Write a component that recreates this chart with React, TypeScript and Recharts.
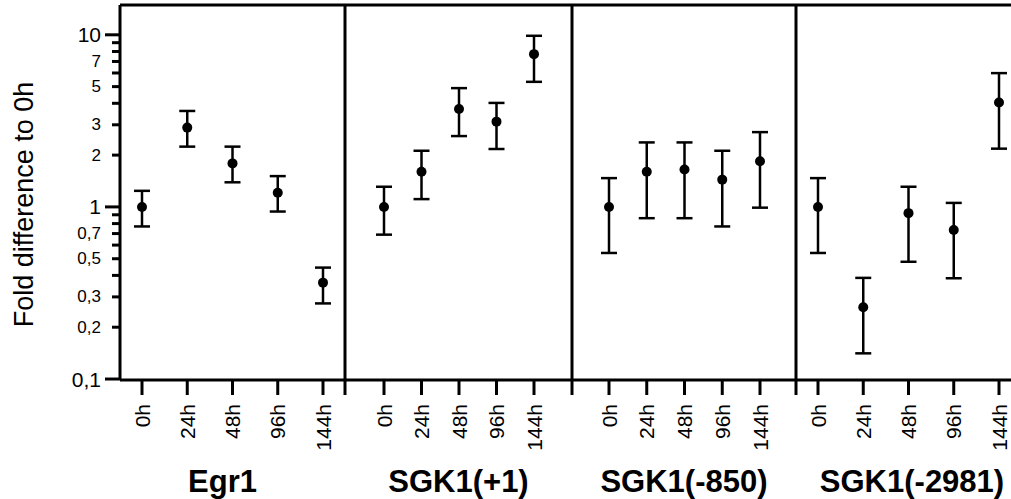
import { LineChart, Line, XAxis, YAxis, ErrorBar, ReferenceLine } from "recharts";

const TIMES = ["0h", "24h", "48h", "96h", "144h"];

const EGR1_MEAN = [1.0, 2.89, 1.79, 1.21, 0.363];
const EGR1_LOW = [0.77, 2.24, 1.39, 0.94, 0.275];
const EGR1_HIGH = [1.24, 3.61, 2.24, 1.51, 0.444];

const SGK1_P1_MEAN = [1.0, 1.6, 3.71, 3.13, 7.72];
const SGK1_P1_LOW = [0.69, 1.11, 2.58, 2.17, 5.33];
const SGK1_P1_HIGH = [1.31, 2.12, 4.9, 4.02, 9.87];

const SGK1_M850_MEAN = [1.0, 1.6, 1.65, 1.44, 1.84];
const SGK1_M850_LOW = [0.54, 0.86, 0.86, 0.77, 0.99];
const SGK1_M850_HIGH = [1.47, 2.37, 2.37, 2.12, 2.72];

const SGK1_M2981_MEAN = [1.0, 0.261, 0.92, 0.735, 4.04];
const SGK1_M2981_LOW = [0.54, 0.141, 0.48, 0.385, 2.18];
const SGK1_M2981_HIGH = [1.47, 0.387, 1.31, 1.055, 5.99];

const Y_TICKS = [0.1, 0.2, 0.3, 0.4, 0.5, 0.6, 0.7, 0.8, 0.9, 1, 2, 3, 4, 5, 6, 7, 8, 9, 10];
const Y_LABELS: Record<string, string> = {
  "0.1": "0,1",
  "0.2": "0,2",
  "0.3": "0,3",
  "0.5": "0,5",
  "0.7": "0,7",
  "1": "1",
  "2": "2",
  "3": "3",
  "5": "5",
  "7": "7",
  "10": "10",
};
const DECADES = [0.1, 1, 10];
const Y_MIN = 0.0987;
const Y_MAX = 14.9;

const FONT = "'Liberation Sans', Arial, sans-serif";
const H = 499;
const AXIS_H = 119;
const LEAD = 5;

function rows(mean: number[], low: number[], high: number[]) {
  return TIMES.map((t, i) => ({
    time: t,
    mean: mean[i],
    err: [mean[i] - low[i], high[i] - mean[i]],
  }));
}

const panels = [
  { name: "Egr1", data: rows(EGR1_MEAN, EGR1_LOW, EGR1_HIGH), x0: 120, w: 225, pad: [22, 22], dx: -10 },
  { name: "SGK1(+1)", data: rows(SGK1_P1_MEAN, SGK1_P1_LOW, SGK1_P1_HIGH), x0: 345, w: 227, pad: [39, 38], dx: 0 },
  { name: "SGK1(-850)", data: rows(SGK1_M850_MEAN, SGK1_M850_LOW, SGK1_M850_HIGH), x0: 572, w: 224, pad: [37, 36], dx: 0 },
  { name: "SGK1(-2981)", data: rows(SGK1_M2981_MEAN, SGK1_M2981_LOW, SGK1_M2981_HIGH), x0: 796, w: 224, pad: [22, 21], dx: 4 },
];

const YTick = (props: any) => {
  const { x, y, payload } = props;
  const v = payload.value;
  const big = DECADES.includes(v);
  const label = Y_LABELS[String(v)];
  const len = big ? 15 : 8;
  return (
    <g>
      <line x1={x - len} y1={y} x2={x} y2={y} stroke="#000" strokeWidth={3} />
      {label && (
        <text
          x={x - 19}
          y={y}
          textAnchor="end"
          dominantBaseline="central"
          fontSize={big ? 21 : 17}
          fontFamily={FONT}
          fill="#000"
        >
          {label}
        </text>
      )}
    </g>
  );
};

// short stub below the axis where two panels meet
const EdgeTick = (props: any) => {
  const { x, y } = props;
  return <line x1={x} y1={y} x2={x} y2={y + 15} stroke="#000" strokeWidth={3} />;
};

const XTick = (props: any) => {
  const { x, y, payload } = props;
  return (
    <text
      x={x}
      y={y}
      transform={`rotate(-90 ${x} ${y})`}
      textAnchor="end"
      dominantBaseline="central"
      fontSize={21}
      fontFamily={FONT}
      fill="#000"
    >
      {payload.value}
    </text>
  );
};

function Panel({ p, first }: { p: (typeof panels)[number]; first: boolean }) {
  const yw = first ? p.x0 : LEAD;
  const left = first ? 0 : p.x0 - LEAD;
  const width = first ? p.x0 + p.w : p.w + LEAD;
  return (
    <div style={{ position: "absolute", left, top: 0 }}>
      <LineChart
        width={width}
        height={H}
        data={p.data}
        margin={{ top: 5, right: 0, bottom: 0, left: 0 }}
      >
        <XAxis
          dataKey="time"
          scale="point"
          padding={{ left: p.pad[0], right: p.pad[1] }}
          height={AXIS_H}
          interval={0}
          tickSize={15}
          tickMargin={9}
          tickLine={{ stroke: "#000", strokeWidth: 3 }}
          axisLine={{ stroke: "#000", strokeWidth: 3 }}
          tick={<XTick />}
          label={{
            content: (lp: any) => {
              const vb = lp.viewBox;
              return (
                <text
                  x={vb.x + vb.width / 2 + p.dx}
                  y={vb.y + vb.height - 7}
                  textAnchor="middle"
                  fontSize={31}
                  fontWeight="bold"
                  fontFamily={FONT}
                  fill="#000"
                >
                  {p.name}
                </text>
              );
            },
          }}
        />
        {first ? (
          <YAxis
            scale="log"
            domain={[Y_MIN, Y_MAX]}
            allowDataOverflow
            ticks={Y_TICKS}
            interval={0}
            width={yw}
            tickSize={0}
            tickMargin={0}
            tickLine={false}
            axisLine={{ stroke: "#000", strokeWidth: 3 }}
            tick={<YTick />}
            label={{
              content: (lp: any) => {
                const vb = lp.viewBox;
                const cx = vb.x + 24;
                const cy = vb.y + vb.height / 2 + 12;
                return (
                  <text
                    x={cx}
                    y={cy}
                    transform={`rotate(-90 ${cx} ${cy})`}
                    textAnchor="middle"
                    dominantBaseline="central"
                    fontSize={27}
                    fontFamily={FONT}
                    fill="#000"
                  >
                    Fold difference to 0h
                  </text>
                );
              },
            }}
          />
        ) : (
          <YAxis
            scale="log"
            domain={[Y_MIN, Y_MAX]}
            allowDataOverflow
            ticks={[Y_MIN]}
            interval={0}
            width={yw}
            tickSize={0}
            tickMargin={0}
            tickLine={false}
            axisLine={{ stroke: "#000", strokeWidth: 3 }}
            tick={<EdgeTick />}
          />
        )}
        <ReferenceLine y={Y_MAX} stroke="#000" strokeWidth={3} ifOverflow="visible" />
        <Line
          dataKey="mean"
          stroke="none"
          isAnimationActive={false}
          dot={{ r: 5, fill: "#000", stroke: "#000", strokeWidth: 0 }}
          activeDot={false}
        >
          <ErrorBar dataKey="err" direction="y" width={8} stroke="#000" strokeWidth={2.5} isAnimationActive={false} />
        </Line>
      </LineChart>
    </div>
  );
}

export default function App() {
  return (
    <div style={{ position: "relative", width: 1011, height: H, overflow: "hidden", background: "#fff" }}>
      <style>{"body{margin:0}"}</style>
      {panels.map((p, i) => (
        <Panel key={p.name} p={p} first={i === 0} />
      ))}
    </div>
  );
}
